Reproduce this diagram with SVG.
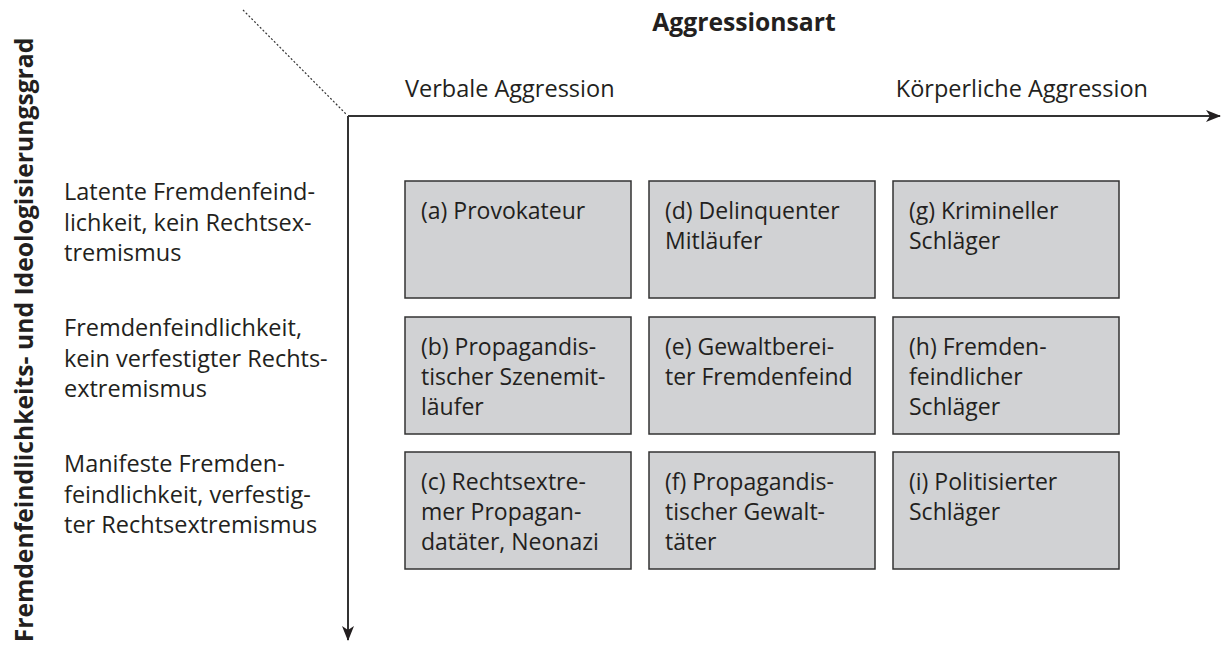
<svg xmlns="http://www.w3.org/2000/svg" width="1221" height="648" viewBox="0 0 1221 648">
<defs>
<style>
text{font-family:"Open Sans","Liberation Sans",sans-serif;font-size:23.5px;fill:#231f20}
.b{font-weight:bold;font-size:24.7px}
.t{font-size:23px}
.box{fill:#d1d2d4;stroke:#333;stroke-width:1.5}
.ax{stroke:#333;stroke-width:2;fill:none}
</style>
<marker id="ah" viewBox="0 0 15 12" refX="14" refY="6" markerWidth="15" markerHeight="12" markerUnits="userSpaceOnUse" orient="auto">
<path d="M0,0 L15,6 L0,12 L4,6 Z" fill="#231f20"/>
</marker>
</defs>
<rect width="1221" height="648" fill="#fff"/>
<g id="connectors">
<line class="ax" x1="348" y1="116" x2="1220" y2="116" marker-end="url(#ah)"/>
<line class="ax" x1="348" y1="116" x2="348" y2="640" marker-end="url(#ah)"/>
<line x1="243" y1="10" x2="347" y2="115" stroke="#333" stroke-width="1.2" stroke-dasharray="2,2"/>
</g>
<g id="titles">
<text class="b" x="744" y="31" text-anchor="middle">Aggressionsart</text>
<text x="405" y="97">Verbale Aggression</text>
<text x="1148" y="97" text-anchor="end">Körperliche Aggression</text>
<text class="b" transform="translate(33,340) rotate(-90)" text-anchor="middle">Fremdenfeindlichkeits- und Ideologisierungsgrad</text>
</g>
<g id="rowlabels">
<text x="64" y="200">Latente Fremdenfeind-</text>
<text x="64" y="230.5">lichkeit, kein Rechtsex-</text>
<text x="64" y="261">tremismus</text>
<text x="64" y="336">Fremdenfeindlichkeit,</text>
<text x="64" y="366.5">kein verfestigter Rechts-</text>
<text x="64" y="397">extremismus</text>
<text x="64" y="472">Manifeste Fremden-</text>
<text x="64" y="502.5">feindlichkeit, verfestig-</text>
<text x="64" y="533">ter Rechtsextremismus</text>
</g>
<g id="a"><rect class="box" x="405" y="181" width="226" height="117"/><text class="t" x="421" y="219">(a) Provokateur</text></g>
<g id="d"><rect class="box" x="649" y="181" width="226" height="117"/><text class="t" x="665" y="219">(d) Delinquenter</text><text class="t" x="665" y="249">Mitläufer</text></g>
<g id="g"><rect class="box" x="893" y="181" width="226" height="117"/><text class="t" x="909" y="219">(g) Krimineller</text><text class="t" x="909" y="249">Schläger</text></g>
<g id="b"><rect class="box" x="405" y="317" width="226" height="117"/><text class="t" x="421" y="355">(b) Propagandis-</text><text class="t" x="421" y="385">tischer Szenemit-</text><text class="t" x="421" y="415">läufer</text></g>
<g id="e"><rect class="box" x="649" y="317" width="226" height="117"/><text class="t" x="665" y="355">(e) Gewaltberei-</text><text class="t" x="665" y="385">ter Fremdenfeind</text></g>
<g id="h"><rect class="box" x="893" y="317" width="226" height="117"/><text class="t" x="909" y="355">(h) Fremden-</text><text class="t" x="909" y="385">feindlicher</text><text class="t" x="909" y="415">Schläger</text></g>
<g id="c"><rect class="box" x="405" y="452" width="226" height="117"/><text class="t" x="421" y="490">(c) Rechtsextre-</text><text class="t" x="421" y="520">mer Propagan-</text><text class="t" x="421" y="550">datäter, Neonazi</text></g>
<g id="f"><rect class="box" x="649" y="452" width="226" height="117"/><text class="t" x="665" y="490">(f) Propagandis-</text><text class="t" x="665" y="520">tischer Gewalt-</text><text class="t" x="665" y="550">täter</text></g>
<g id="i"><rect class="box" x="893" y="452" width="226" height="117"/><text class="t" x="909" y="490">(i) Politisierter</text><text class="t" x="909" y="520">Schläger</text></g>
</svg>
